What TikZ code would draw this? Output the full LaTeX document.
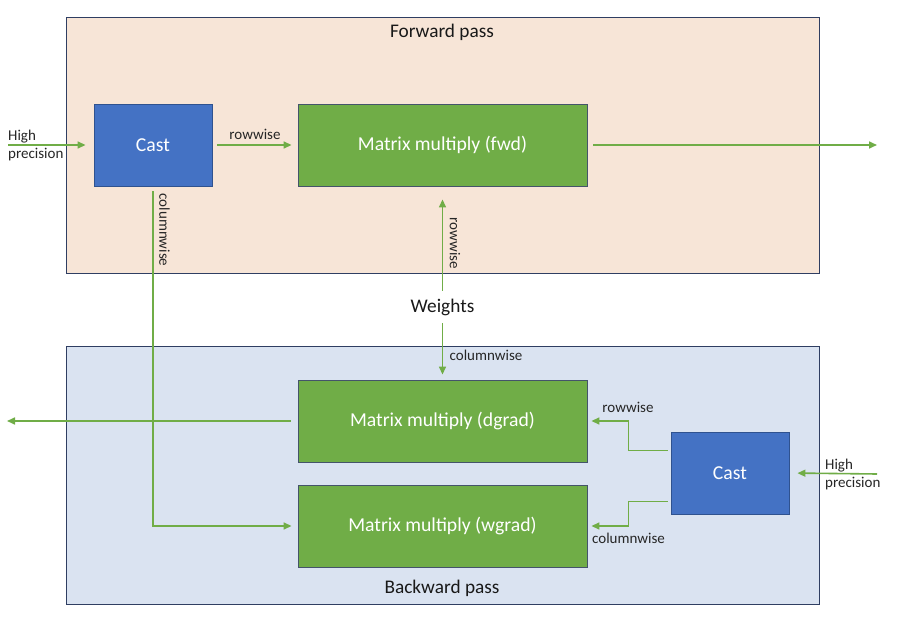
\documentclass[tikz,border=0pt]{standalone}
\usepackage{fontspec}
\setmainfont{Carlito}
\usetikzlibrary{arrows.meta,positioning}
\definecolor{peach}{HTML}{F7E5D7}
\definecolor{paleblue}{HTML}{DAE3F1}
\definecolor{navy}{HTML}{2F3E62}
\definecolor{castblue}{HTML}{4472C4}
\definecolor{castedge}{HTML}{2F528F}
\definecolor{mmgreen}{HTML}{70AD47}
\definecolor{mmedge}{HTML}{44546A}
\definecolor{arrowgreen}{HTML}{70AD47}
\tikzset{
  frame/.style={draw=navy, line width=0.9pt},
  castbox/.style={draw=castedge, fill=castblue, line width=0.9pt, minimum width=118pt, minimum height=82pt, inner sep=0pt, text=white, font=\fontsize{19.7}{22}\selectfont},
  mmbox/.style={draw=mmedge, fill=mmgreen, line width=0.9pt, minimum width=289pt, minimum height=82pt, inner sep=0pt, text=white, font=\fontsize{19.7}{22}\selectfont},
  conn/.style={draw=arrowgreen, line width=1.6pt, -{Triangle[length=8pt,width=7pt]}},
  lbl/.style={font=\fontsize{15}{18}\selectfont, text=black!85, inner sep=0pt},
  title/.style={font=\fontsize{19.3}{22}\selectfont, text=black!90, inner sep=0pt},
}
\begin{document}
\begin{tikzpicture}[x=1pt,y=-1pt]
\useasboundingbox (0,0) rectangle (922,629);
\fill[white] (0,0) rectangle (922,629);
% frames
\filldraw[frame, fill=peach] (66,17) rectangle (819,273);
\filldraw[frame, fill=paleblue] (66,346) rectangle (819,604);
\node[title] (fwdtitle) at (442,32) {Forward pass};
\node[title] (bwdtitle) at (442,588) {Backward pass};
% boxes
\node[castbox] (cast1) at (153,145) {Cast};
\node[mmbox] (fwd) at (442.5,145) {Matrix multiply (fwd)};
\node[mmbox] (dgrad) at (442.5,421) {Matrix multiply (dgrad)};
\node[mmbox] (wgrad) at (442.5,526) {Matrix multiply (wgrad)};
\node[castbox] (cast2) at (730,473) {Cast};
\node[title, minimum height=32pt] (weights) at (442.5,307) {Weights};
% free ends
\coordinate (hp1) at (8,145);
\coordinate (fwdout) at (877,145);
\coordinate (dgradout) at (7,421);
\coordinate (hp2) at (877,474);
% labels
\node[lbl, align=left, anchor=west] (hp1lbl) at (8,145) {High\\precision};
\node[lbl, align=left, anchor=west] (hp2lbl) at (825,474) {High\\precision};
\node[lbl] (rw1) at (255,134) {rowwise};
\node[lbl, rotate=-90] (cw1) at (164.5,230) {columnwise};
\node[lbl, rotate=-90] (rw2) at (455,243.5) {rowwise};
\node[lbl] (cw2) at (486,355.5) {columnwise};
\node[lbl] (rw3) at (628,407) {rowwise};
\node[lbl] (cw3) at (628.5,538) {columnwise};
% connectors
\draw[conn, shorten >=8pt] (hp1) -- (cast1.west);
\draw[conn, shorten <=5pt, shorten >=6pt] (cast1.east) -- (fwd.west);
\draw[conn, shorten <=6pt] (fwd.east) -- (fwdout);
\draw[conn, shorten >=13pt] (weights.north) -- (fwd.south);
\draw[conn, shorten >=5pt] (weights.south) -- (dgrad.north);
\draw[conn, shorten <=5pt, shorten >=6pt] (cast1.south) |- (wgrad.west);
\draw[conn, shorten <=7pt] (dgrad.west) -- (dgradout);
\draw[conn, shorten >=8pt] (hp2) -- (cast2.east);
\draw[conn, shorten <=3pt, shorten >=4pt] ([yshift=22.5pt]cast2.west) -- ++(-42,0) |- (dgrad.east);
\draw[conn, shorten <=3pt, shorten >=4pt] ([yshift=-28.5pt]cast2.west) -- ++(-42,0) |- (wgrad.east);
\end{tikzpicture}
\end{document}
